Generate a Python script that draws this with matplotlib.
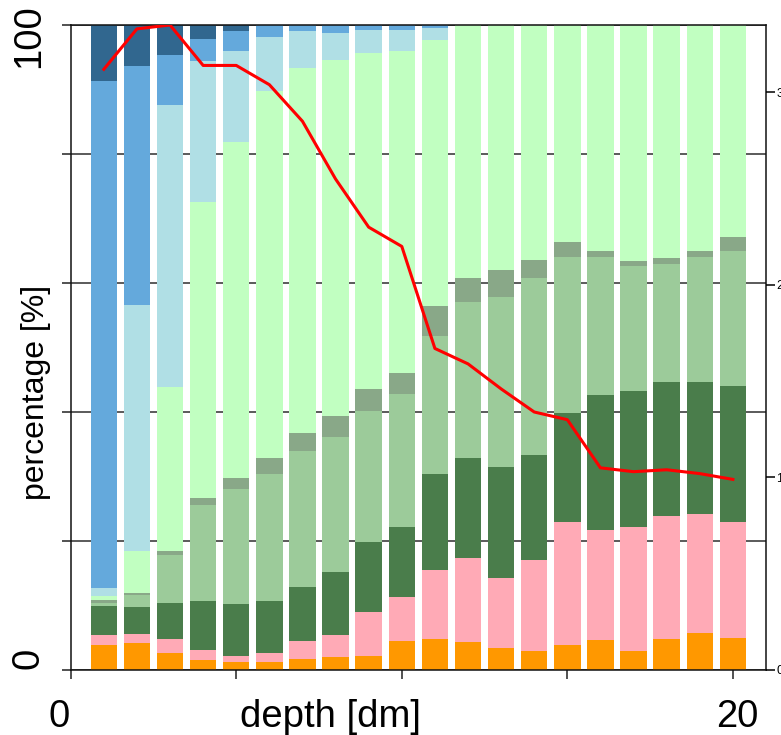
import matplotlib
matplotlib.use("Agg")
import matplotlib.pyplot as plt
import numpy as np

plt.rcParams["font.family"] = ["Liberation Sans", "DejaVu Sans"]

depth = np.arange(1, 21)

# share of each fraction per depth step [%], listed bottom to top of the stack
orange = [3.9, 4.2, 2.7, 1.6, 1.2, 1.2, 1.7, 2.0, 2.1, 4.5,
          4.8, 4.3, 3.4, 2.9, 3.9, 4.7, 2.9, 4.8, 5.8, 5.0]
pink = [1.5, 1.4, 2.1, 1.5, 0.9, 1.5, 2.8, 3.4, 6.9, 6.8,
        10.7, 13.1, 10.9, 14.2, 19.1, 17.0, 19.2, 19.0, 18.4, 18.0]
dark_green = [4.5, 4.2, 5.6, 7.6, 8.1, 8.0, 8.4, 9.8, 10.9, 10.8,
              14.9, 15.5, 17.1, 16.3, 16.8, 20.9, 21.2, 20.9, 20.5, 21.1]
mid_green = [0.5, 1.9, 7.4, 14.9, 17.9, 19.7, 21.1, 21.0, 20.2, 20.7,
             21.4, 24.2, 26.5, 27.3, 24.3, 21.5, 19.3, 18.2, 19.4, 20.9]
grey_green = [0.5, 0.3, 0.6, 1.0, 1.7, 2.4, 2.8, 3.2, 3.5, 3.2,
              4.6, 3.7, 4.1, 2.9, 2.3, 0.9, 0.8, 0.9, 0.9, 2.1]
pale_green = [0.5, 6.4, 25.4, 45.9, 52.1, 57.0, 56.6, 55.1, 52.1, 49.9,
              41.3, 39.2, 38.0, 36.4, 33.6, 35.0, 36.6, 36.2, 35.0, 32.9]
powder_blue = [1.3, 38.2, 43.8, 21.9, 14.0, 8.3, 5.6, 4.3, 3.5, 3.3,
               1.8, 0, 0, 0, 0, 0, 0, 0, 0, 0]
sky_blue = [78.6, 37.1, 7.7, 3.4, 3.1, 1.9, 1.0, 1.2, 0.8, 0.8,
            0.5, 0, 0, 0, 0, 0, 0, 0, 0, 0]
steel_blue = [8.7, 6.3, 4.7, 2.2, 1.0, 0, 0, 0, 0, 0,
              0, 0, 0, 0, 0, 0, 0, 0, 0, 0]

# second quantity drawn on the right axis
ratio = [3.12, 3.33, 3.35, 3.14, 3.14, 3.04, 2.85, 2.55, 2.30, 2.20,
         1.67, 1.59, 1.46, 1.34, 1.30, 1.05, 1.03, 1.04, 1.02, 0.99]

layers = [
    (orange, "#ff9800"),
    (pink, "#ffaab6"),
    (dark_green, "#4a7d4b"),
    (mid_green, "#9ccb9a"),
    (grey_green, "#89a888"),
    (pale_green, "#c1ffc1"),
    (powder_blue, "#b0dfe5"),
    (sky_blue, "#64a9dc"),
    (steel_blue, "#31678f"),
]

W, H = 781, 735
fig = plt.figure(figsize=(W / 100, H / 100), dpi=100)
ax = fig.add_axes([70.7 / W, 65 / H, 695.3 / W, 645 / H])

bottom = np.zeros(len(depth))
for values, color in layers:
    values = np.asarray(values, dtype=float)
    ax.bar(depth, values, bottom=bottom, width=0.8, color=color,
           linewidth=0, zorder=2)
    bottom += values

ax.set_xlim(0, 21)
ax.set_ylim(0, 100)
ax.set_yticks([0, 20, 40, 60, 80, 100])
ax.set_xticks([0, 5, 10, 15, 20])
ax.set_yticklabels([])
ax.set_xticklabels([])
ax.grid(axis="y", color="#4d4d4d", linewidth=1.3, zorder=1)
ax.set_axisbelow(True)
ax.tick_params(axis="both", length=6.5, width=1.1, color="#222222")
for side in ["left", "bottom", "top", "right"]:
    ax.spines[side].set_linewidth(1.1)
    ax.spines[side].set_color("#111111")

big = 27.5
ax.annotate("100", xy=(0, 100), xytext=(-42, -11), textcoords="offset pixels",
            rotation=90, ha="center", va="center", fontsize=big)
ax.annotate("0", xy=(0, 0), xytext=(-42, 12), textcoords="offset pixels",
            rotation=90, ha="center", va="center", fontsize=big)
ax.annotate("0", xy=(0, 0), xytext=(-12, -57), textcoords="offset pixels",
            ha="center", va="baseline", fontsize=big)
ax.annotate("20", xy=(20, 0), xytext=(4, -57), textcoords="offset pixels",
            ha="center", va="baseline", fontsize=big)
fig.text(330 / W, 1 - 727 / H, "depth [dm]", ha="center", va="baseline",
         fontsize=big)
fig.text(36 / W, 1 - 392 / H, "percentage [%]", rotation=90, ha="center",
         va="center", fontsize=23)

ax2 = ax.twinx()
ax2.plot(depth, ratio, color="#ff0000", linewidth=2.2, zorder=5)
ax2.set_ylim(0, 3.35)
ax2.set_yticks([0, 1, 2, 3])
ax2.tick_params(axis="y", length=6.5, width=1.1, pad=1, labelsize=9)
for side in ["left", "bottom", "top", "right"]:
    ax2.spines[side].set_visible(False)

fig.savefig("out.png", dpi=100)
